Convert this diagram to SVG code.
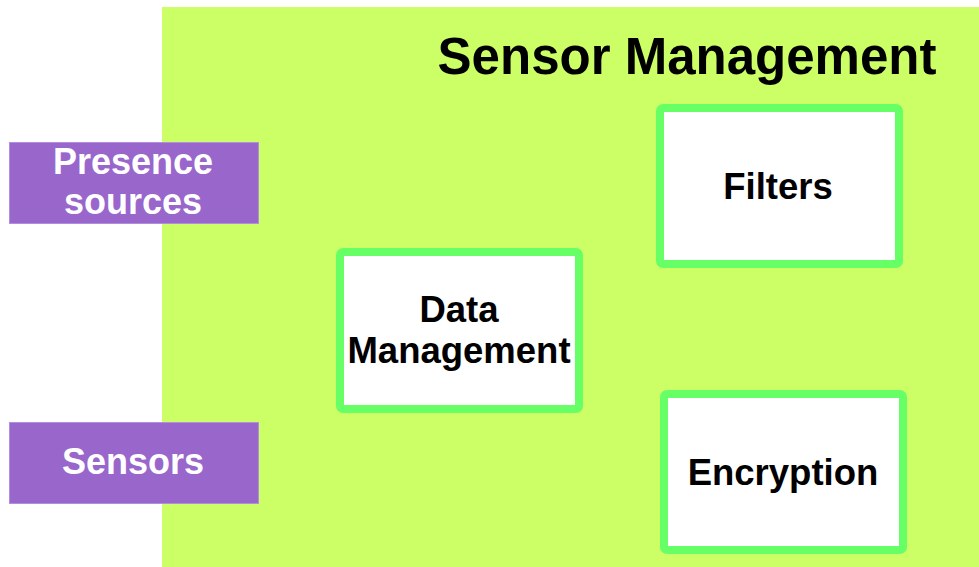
<svg xmlns="http://www.w3.org/2000/svg" width="979" height="567" viewBox="0 0 979 567">
  <style>
    .bold { font-family: "Liberation Sans", Arial, sans-serif; font-weight: bold; text-anchor: middle; }
    .source rect { fill: #9966cc; stroke: #b28ee0; stroke-width: 1; }
    .source text { fill: #ffffff; font-size: 36px; }
    .module rect { fill: #ffffff; stroke: #66ff66; stroke-width: 8; }
    .module text { fill: #000000; font-size: 36.5px; }
  </style>
  <rect width="979" height="567" fill="#ffffff"/>

  <!-- Sensor Management container -->
  <g id="sensor-management">
    <rect x="162" y="7" width="817" height="560" fill="#ccff66"/>
    <text class="bold" x="687" y="74" font-size="51" fill="#000000">Sensor Management</text>
  </g>

  <!-- external sources -->
  <g id="presence-sources" class="source">
    <rect x="9.5" y="142.5" width="249" height="81"/>
    <text class="bold" x="133" y="174">Presence</text>
    <text class="bold" x="133" y="214">sources</text>
  </g>
  <g id="sensors" class="source">
    <rect x="9.5" y="422.5" width="249" height="81"/>
    <text class="bold" x="133" y="474">Sensors</text>
  </g>

  <!-- internal modules -->
  <g id="data-management" class="module">
    <rect x="340" y="252" width="239" height="157" rx="3"/>
    <text class="bold" x="459" y="322">Data</text>
    <text class="bold" x="459" y="363">Management</text>
  </g>
  <g id="filters" class="module">
    <rect x="660" y="108" width="239" height="156" rx="3"/>
    <text class="bold" x="778" y="199">Filters</text>
  </g>
  <g id="encryption" class="module">
    <rect x="664" y="394" width="239" height="156" rx="3"/>
    <text class="bold" x="783" y="485">Encryption</text>
  </g>

  <g id="connectors"/>
</svg>
